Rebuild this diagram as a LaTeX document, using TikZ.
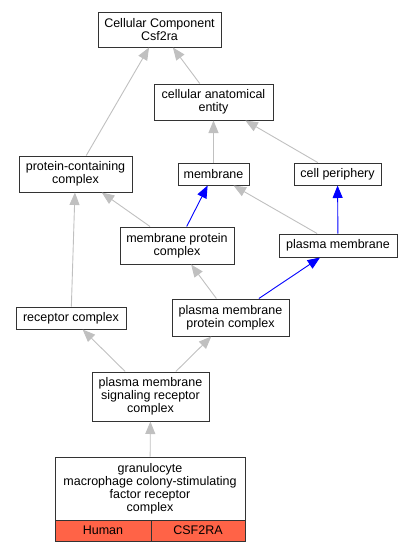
\documentclass[tikz,border=0pt]{standalone}
\usepackage{fontspec}
\setmainfont{Liberation Sans}
\usetikzlibrary{arrows.meta}

\definecolor{edgegray}{RGB}{192,192,192}
\definecolor{boxline}{RGB}{51,51,51}
\definecolor{tomato}{RGB}{255,99,71}

\begin{document}
\begin{tikzpicture}[x = 1pt, y = -1pt,
  term/.style = {draw = boxline, line width = 1pt, fill = white, align = center,
    inner sep = 0pt, font = \fontsize{12.5}{13}\selectfont},
  isa/.style = {-{Triangle[length = 12.5pt, width = 10pt]}, edgegray, line width = 0.9pt},
  partof/.style = {-{Triangle[length = 12.5pt, width = 10pt]}, blue, line width = 0.9pt}]
  \useasboundingbox (0, 0) rectangle (413, 552);

  % Draw term boxes, row by row.
  \node [term, minimum width = 123pt, minimum height = 35pt] (cc) at (159.5, 29.5) {Cellular Component\\Csf2ra};
  \node [term, minimum width = 119pt, minimum height = 36pt] (cae) at (213.5, 102) {cellular anatomical\\entity};
  \node [term, minimum width = 113pt, minimum height = 36pt] (pcc) at (75.5, 174) {protein-containing\\complex};
  \node [term, minimum width = 71pt, minimum height = 22pt] (mem) at (213.5, 174) {membrane};
  \node [term, minimum width = 87pt, minimum height = 22pt] (cp) at (337.5, 174) {cell periphery};
  \node [term, minimum width = 114pt, minimum height = 37pt] (mpc) at (177, 245.5) {membrane protein\\complex};
  \node [term, minimum width = 118pt, minimum height = 23pt] (pm) at (338, 245.5) {plasma membrane};
  \node [term, minimum width = 110pt, minimum height = 22pt] (rc) at (71, 318) {receptor complex};
  \node [term, minimum width = 117pt, minimum height = 37pt] (pmpc) at (230.5, 317.5) {plasma membrane\\protein complex};
  \node [term, minimum width = 117pt, minimum height = 49pt] (pmsrc) at (150.5, 396.5) {plasma membrane\\signaling receptor\\complex};

  % Draw the annotated term with its species and gene cells.
  \node [term, minimum width = 190pt, minimum height = 63pt] (gran) at (150, 488.5) {granulocyte\\macrophage colony-stimulating\\factor receptor\\complex};
  \node [term, fill = tomato, minimum width = 96pt, minimum height = 21pt] (human) at (103, 530.5) {Human};
  \node [term, fill = tomato, minimum width = 94pt, minimum height = 21pt] (gene) at (198, 530.5) {CSF2RA};

  % Draw is_a edges.
  \foreach \child/\parent in {pcc/cc, cae/cc, mem/cae, cp/cae, mpc/pcc, pm/mem,
      rc/pcc, pmpc/mpc, pmsrc/rc, pmsrc/pmpc, gran/pmsrc} {
    \draw [isa] (\child) -- (\parent);
  };

  % Draw part_of edges.
  \foreach \child/\parent in {mpc/mem, pm/cp, pmpc/pm} {
    \draw [partof] (\child) -- (\parent);
  };
\end{tikzpicture}
\end{document}
